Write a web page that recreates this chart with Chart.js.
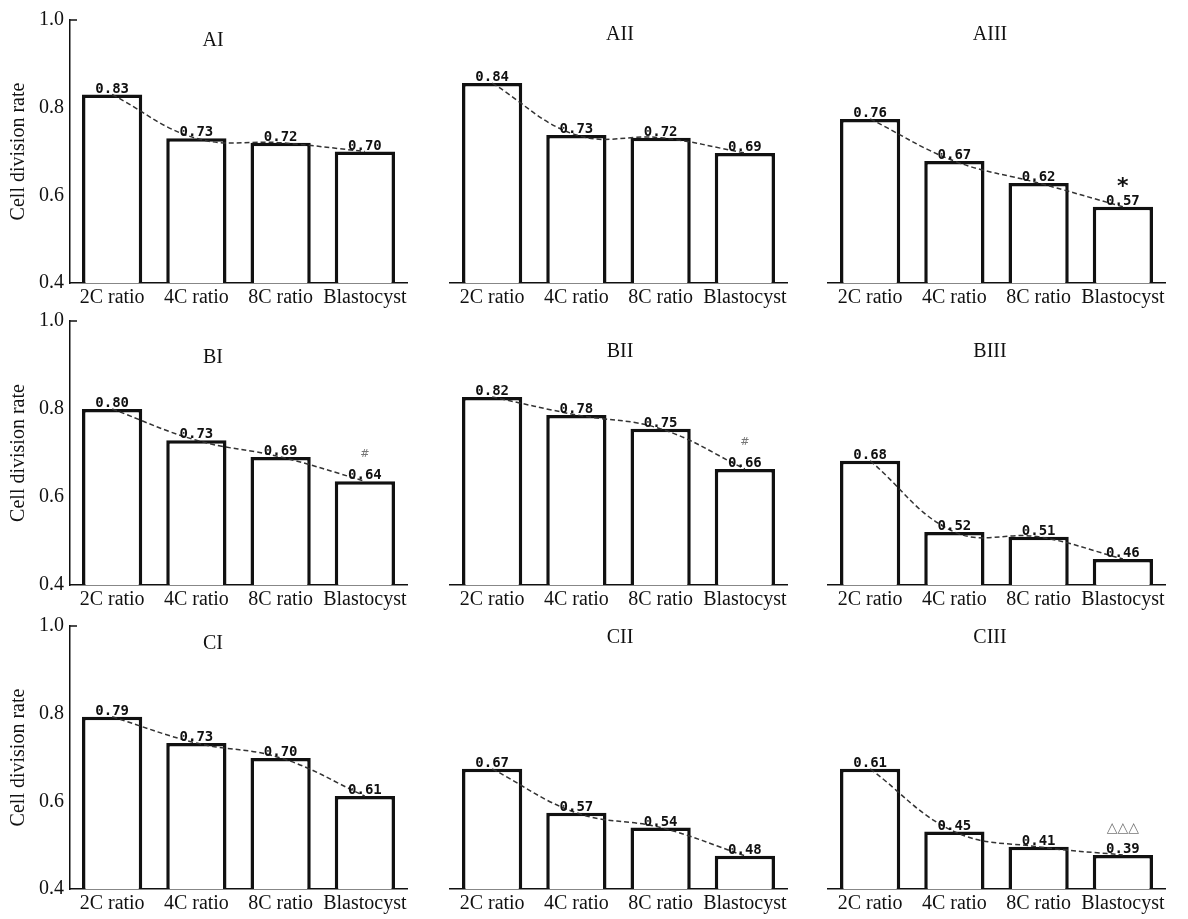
<!DOCTYPE html>
<html>
<head>
<meta charset="utf-8">
<script src="https://cdn.jsdelivr.net/npm/chart.js@4.4.1/dist/chart.umd.min.js"></script>
<style>
  body { margin: 0; background: #fff; }
  #wrap { position: relative; width: 1188px; height: 919px; }
  #wrap canvas { position: absolute; }
</style>
</head>
<body>
<div id="wrap"></div>
<script>
var categories = ['2C ratio', '4C ratio', '8C ratio', 'Blastocyst'];
var yTicks = [0.4, 0.6, 0.8, 1.0];

var rateAI = [0.83, 0.73, 0.72, 0.70];
var labelAI = ['0.83', '0.73', '0.72', '0.70'];
var rateAII = [0.846, 0.73, 0.724, 0.69];
var labelAII = ['0.84', '0.73', '0.72', '0.69'];
var rateAIII = [0.766, 0.672, 0.623, 0.57];
var labelAIII = ['0.76', '0.67', '0.62', '0.57'];
var rateBI = [0.80, 0.729, 0.691, 0.636];
var labelBI = ['0.80', '0.73', '0.69', '0.64'];
var rateBII = [0.818, 0.778, 0.747, 0.658];
var labelBII = ['0.82', '0.78', '0.75', '0.66'];
var rateBIII = [0.676, 0.518, 0.507, 0.458];
var labelBIII = ['0.68', '0.52', '0.51', '0.46'];
var rateCI = [0.793, 0.733, 0.699, 0.612];
var labelCI = ['0.79', '0.73', '0.70', '0.61'];
var rateCII = [0.668, 0.57, 0.537, 0.474];
var labelCII = ['0.67', '0.57', '0.54', '0.48'];
var rateCIII = [0.668, 0.528, 0.494, 0.476];
var labelCIII = ['0.61', '0.45', '0.41', '0.39'];

var panels = [
  {name: 'AI', rates: rateAI, labels: labelAI, mark: ''},
  {name: 'AII', rates: rateAII, labels: labelAII, mark: ''},
  {name: 'AIII', rates: rateAIII, labels: labelAIII, mark: '*'},
  {name: 'BI', rates: rateBI, labels: labelBI, mark: '#'},
  {name: 'BII', rates: rateBII, labels: labelBII, mark: '#'},
  {name: 'BIII', rates: rateBIII, labels: labelBIII, mark: ''},
  {name: 'CI', rates: rateCI, labels: labelCI, mark: ''},
  {name: 'CII', rates: rateCII, labels: labelCII, mark: ''},
  {name: 'CIII', rates: rateCIII, labels: labelCIII, mark: '\u25B3\u25B3\u25B3'}
];

// page layout (pixels)
var colLeft = [70, 450, 828];
var plotW = 337;
var rowTop = [14, 315, 620];
var rowBottom = [283, 585, 889];
var titleDx = [143, 170, 162];
var titleDy = [21, 37, 18];
var serif = '"Liberation Serif", "Times New Roman", serif';

var panelText = {
  id: 'panelText',
  afterDatasetsDraw: function(chart, args, opts) {
    var ctx = chart.ctx;
    var area = chart.chartArea;
    var bars = chart.getDatasetMeta(1).data;
    var p = opts.panel;
    ctx.save();
    ctx.fillStyle = '#111';
    ctx.textAlign = 'center';
    ctx.textBaseline = 'middle';
    ctx.font = '20px ' + serif;
    ctx.fillText(p.name, area.left + titleDx[opts.col], area.top + titleDy[opts.row]);

    ctx.font = 'bold 14px "DejaVu Sans Mono", monospace';
    ctx.textBaseline = 'alphabetic';
    bars.forEach(function(b, i) {
      ctx.fillText(p.labels[i], b.x, b.y - 2);
    });

    if (p.mark) {
      var last = bars[bars.length - 1];
      if (p.mark == '*') {
        ctx.font = 'bold 22px "DejaVu Sans", sans-serif';
        ctx.fillText(p.mark, last.x, last.y - 14);
      } else if (p.mark == '#') {
        ctx.fillStyle = '#777';
        ctx.font = '11px "DejaVu Sans", sans-serif';
        ctx.textBaseline = 'middle';
        ctx.fillText(p.mark, last.x, last.y - 27);
      } else {
        ctx.fillStyle = '#777';
        ctx.font = '14px "DejaVu Sans", sans-serif';
        ctx.textBaseline = 'middle';
        ctx.fillText(p.mark, last.x, last.y - 27);
      }
    }

    if (opts.col == 0) {
      ctx.strokeStyle = '#111';
      ctx.lineWidth = 1.5;
      ctx.beginPath();
      ctx.moveTo(area.left, area.top);
      ctx.lineTo(area.left + 7, area.top);
      ctx.stroke();
    }
    ctx.restore();
  }
};

var wrap = document.getElementById('wrap');

panels.forEach(function(p, i) {
  var row = Math.floor(i / 3);
  var col = i % 3;
  var padL = col == 0 ? 70 : 14;
  var padR = 14;
  var padT = 12;
  var xH = 28;
  var w = plotW + padL + padR;
  var h = rowBottom[row] - rowTop[row] + padT + xH;

  var canvas = document.createElement('canvas');
  canvas.width = w;
  canvas.height = h;
  canvas.style.width = w + 'px';
  canvas.style.height = h + 'px';
  canvas.style.left = (colLeft[col] - padL) + 'px';
  canvas.style.top = (rowTop[row] - padT) + 'px';
  wrap.appendChild(canvas);

  new Chart(canvas.getContext('2d'), {
    type: 'bar',
    data: {
      labels: categories,
      datasets: [{
        type: 'line',
        data: p.rates,
        borderColor: '#333',
        borderWidth: 1.5,
        borderDash: [5, 3],
        pointRadius: 0,
        tension: 0.4,
        fill: false,
        order: 0
      },
      {
        type: 'bar',
        data: p.rates,
        backgroundColor: '#fff',
        borderColor: '#111',
        borderWidth: 3.5,
        categoryPercentage: 1,
        barPercentage: 0.715,
        order: 1
      }]
    },
    options: {
      responsive: false,
      animation: false,
      layout: {
        padding: {left: col == 0 ? 0 : 14, right: padR, top: padT, bottom: 0}
      },
      plugins: {
        legend: {display: false},
        tooltip: {enabled: false},
        panelText: {panel: p, row: row, col: col}
      },
      scales: {
        x: {
          grid: {display: false, drawTicks: false},
          border: {display: true, color: '#111', width: 1.5},
          ticks: {
            color: '#111',
            font: {family: serif, size: 20},
            padding: 3,
            maxRotation: 0,
            autoSkip: false
          },
          afterFit: function(s) { s.height = xH; }
        },
        y: {
          display: col == 0,
          min: 0.4,
          max: 1.0,
          afterBuildTicks: function(s) {
            s.ticks = yTicks.map(function(v) { return {value: v}; });
          },
          ticks: {
            color: '#111',
            font: {family: serif, size: 20},
            padding: 6,
            callback: function(v) { return v.toFixed(1); }
          },
          grid: {display: false, drawTicks: false},
          border: {display: true, color: '#111', width: 1.5},
          title: {
            display: true,
            text: 'Cell division rate',
            color: '#111',
            font: {family: serif, size: 20},
            padding: {top: 7, bottom: 0}
          },
          afterFit: function(s) { s.width = col == 0 ? 70 : 0; }
        }
      }
    },
    plugins: [panelText]
  });
});
</script>
</body>
</html>
